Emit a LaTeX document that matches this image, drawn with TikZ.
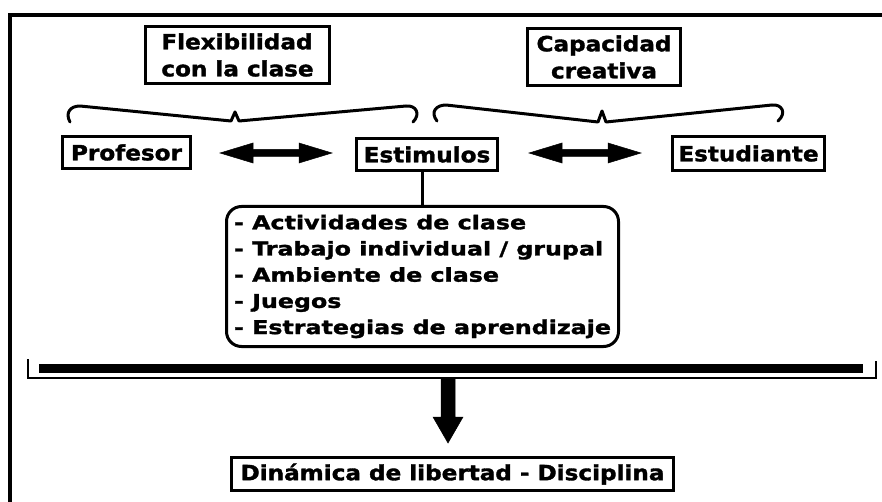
\documentclass[tikz,border=0pt]{standalone}
\usepackage{fontspec}
\newfontfamily\lblfont[FakeStretch=1.1,BoldFeatures={FakeBold=1.6}]{DejaVu Sans}
\newfontfamily\lstfont[FakeStretch=1.25,BoldFeatures={FakeBold=1.6}]{DejaVu Sans}
\tikzset{
  lbl/.style={draw, line width=3pt, inner sep=0pt, align=center,
    font=\lblfont\bfseries\fontsize{21}{27}\selectfont},
  lst/.style={draw, line width=3pt, inner sep=0pt, align=left, rounded corners=15pt,
    font=\lstfont\bfseries\fontsize{19}{26.2}\selectfont},
  conn/.style={line width=3pt},
  brace/.style={line width=3pt, line join=round, line cap=round},
  bigarrow/.style={fill=black, draw=black, line width=0.5pt, line join=miter}
}
\begin{document}
\begin{tikzpicture}[x=1pt,y=-1pt]
\useasboundingbox (0,0) rectangle (882,502);
\fill[white] (0,0) rectangle (882,502);
% outer frame (only top and left edges visible)
\draw[line width=3.5pt] (10,504) -- (10,15) -- (884,15);

% label boxes
\node[lbl, align=left, minimum width=184pt, minimum height=57pt, inner xsep=10pt] (flex) at (237.5,55) {Flexibilidad\\con la clase};
\node[lbl, minimum width=153pt, minimum height=57pt] (cap) at (604,57) {Capacidad\\creativa};
\node[lbl, minimum width=128pt, minimum height=32pt] (prof) at (126.5,152.5) {Profesor};
\node[lbl, minimum width=141pt, minimum height=32pt] (estim) at (427,154.5) {Estimulos};
\node[lbl, minimum width=152pt, minimum height=34pt] (estud) at (748.5,153.5) {Estudiante};
\node[lst, minimum width=392pt, minimum height=140pt] (list) at (422.5,276.5)
  {- Actividades de clase\\- Trabajo individual / grupal\\- Ambiente de clase\\- Juegos\\- Estrategias de aprendizaje};
\node[lbl, minimum width=442pt, minimum height=33pt] (din) at (452.5,474) {Dinámica de libertad - Disciplina};

% braces
\draw[brace] (70,122) .. controls (65,113) and (70,106) .. (80,106) -- (231,121) -- (235,112) -- (239,121) -- (406,106) .. controls (416,105) and (421,114) .. (413,122);
\draw[brace] (437,121) .. controls (430,112) and (436,105) .. (446,105) -- (598,122) -- (602,111) -- (606,122) -- (772,105) .. controls (782,104) and (787,113) .. (778,121);

% double arrows
\fill[bigarrow] (220,153) -- (253,143) -- (253,149.5) -- (299,149.5) -- (299,143) -- (332,153) -- (299,163) -- (299,156.5) -- (253,156.5) -- (253,163) -- cycle;
\fill[bigarrow] (529,153) -- (562,143) -- (562,149.5) -- (608,149.5) -- (608,143) -- (641,153) -- (608,163) -- (608,156.5) -- (562,156.5) -- (562,163) -- cycle;

% connector Estimulos -> list
\draw[conn] (list.north |- estim.south) -- (list.north);

% bottom bracket
\draw[line width=2pt] (28,359) -- (28,378) -- (876,378) -- (876,361);
\draw[line width=9pt] (39,368.5) -- (863,368.5);

% down arrow to Dinamica
\coordinate (bt) at (448,378);
\coordinate (tip) at (448,443);
\fill[bigarrow] (441,378) -- (455,378) -- (455,417) -- (463,417) -- (tip) -- (433,417) -- (441,417) -- cycle;
\end{tikzpicture}
\end{document}
